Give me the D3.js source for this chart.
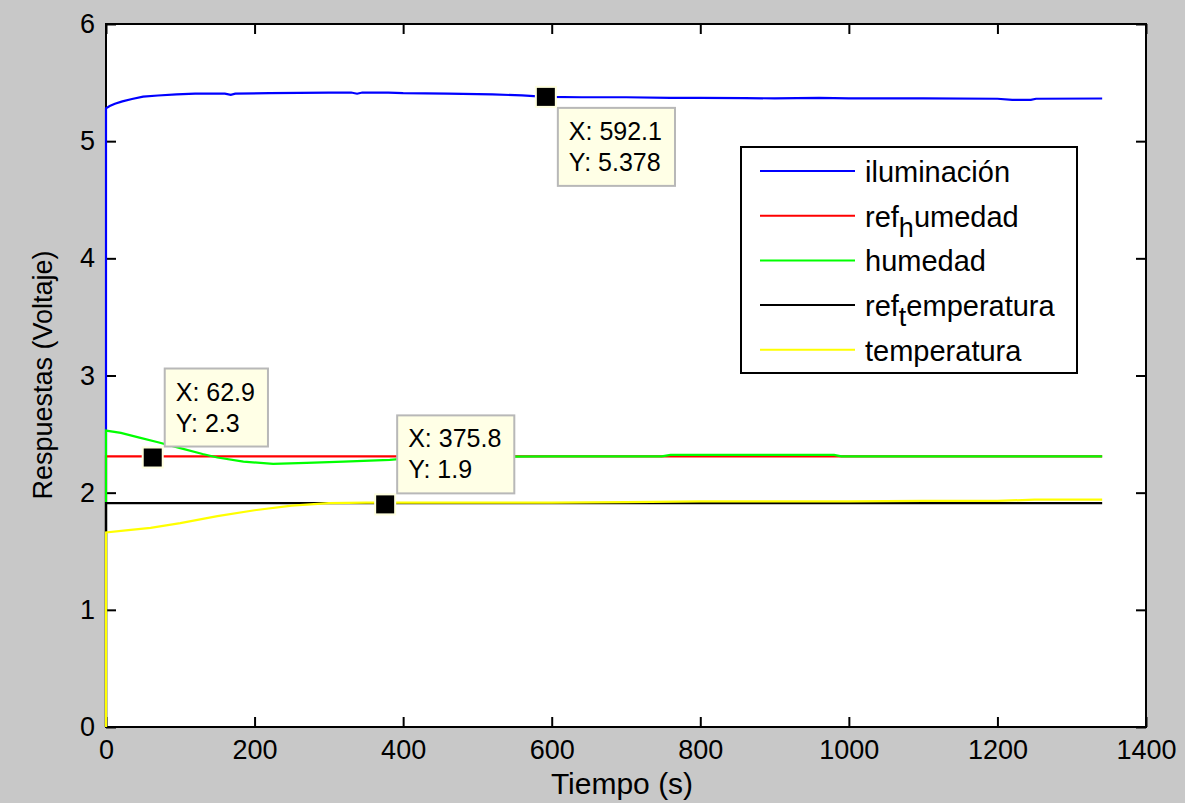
<!DOCTYPE html>
<html>
<head>
<meta charset="utf-8">
<script src="https://cdn.jsdelivr.net/npm/d3@7"></script>
<style>
  body { margin: 0; background: #c8c8c8; }
  text { font-family: "Liberation Sans", Arial, sans-serif; fill: #000; }
</style>
</head>
<body>
<div id="wrapper"></div>
<script>
// time samples (s) and responses (V)
const iluminacionT = [0, 0, 5, 12, 22, 35, 50, 70, 95, 120, 160, 168, 174, 220, 300, 330, 338, 345, 380, 400, 460, 520, 560, 592.1, 640, 700, 760, 800, 860, 900, 960, 1000, 1100, 1200, 1220, 1245, 1252, 1341];
const iluminacionV = [0, 5.28, 5.30, 5.32, 5.34, 5.36, 5.38, 5.39, 5.40, 5.405, 5.405, 5.395, 5.405, 5.41, 5.415, 5.415, 5.405, 5.415, 5.415, 5.41, 5.405, 5.40, 5.39, 5.378, 5.375, 5.375, 5.37, 5.37, 5.368, 5.365, 5.37, 5.365, 5.365, 5.362, 5.352, 5.352, 5.362, 5.364];

const refHumedadT = [0, 0, 1341];
const refHumedadV = [0, 2.31, 2.31];

const humedadT = [0, 0, 20, 45, 70, 100, 130, 150, 185, 225, 270, 320, 382, 420, 500, 600, 700, 748, 760, 980, 990, 1100, 1341];
const humedadV = [0, 2.53, 2.51, 2.47, 2.43, 2.38, 2.33, 2.30, 2.265, 2.245, 2.255, 2.265, 2.28, 2.30, 2.305, 2.31, 2.31, 2.31, 2.322, 2.322, 2.31, 2.31, 2.31];

const refTemperaturaT = [0, 0, 1341];
const refTemperaturaV = [0, 1.91, 1.91];

const temperaturaT = [0, 0, 30, 60, 100, 150, 200, 250, 300, 350, 375.8, 400, 500, 600, 700, 800, 900, 1000, 1100, 1200, 1250, 1341];
const temperaturaV = [0, 1.66, 1.68, 1.70, 1.74, 1.80, 1.85, 1.89, 1.91, 1.915, 1.915, 1.915, 1.915, 1.915, 1.92, 1.925, 1.925, 1.925, 1.93, 1.93, 1.94, 1.94];

const seriesNames = ["iluminación", "ref_humedad", "humedad", "ref_temperatura", "temperatura"];
const seriesColors = ["#0000ff", "#ff0000", "#00ff00", "#000000", "#ffff00"];

// data tips
const tipX = [592.1, 62.9, 375.8];
const tipY = [5.378, 2.3, 1.9];
const tipBelow = [true, false, false];

const xTicks = [0, 200, 400, 600, 800, 1000, 1200, 1400];
const yTicks = [0, 1, 2, 3, 4, 5, 6];

async function drawChart() {
  const series = [
    [iluminacionT, iluminacionV],
    [refHumedadT, refHumedadV],
    [humedadT, humedadV],
    [refTemperaturaT, refTemperaturaV],
    [temperaturaT, temperaturaV],
  ].map(([t, v], i) => ({
    name: seriesNames[i],
    color: seriesColors[i],
    points: t.map((d, j) => ({ t: d, v: v[j] })),
  }));

  let dimensions = {
    width: 1185,
    height: 803,
    margin: { top: 24, right: 39, bottom: 76, left: 106 },
  };
  dimensions.boundedWidth =
    dimensions.width - dimensions.margin.left - dimensions.margin.right;
  dimensions.boundedHeight =
    dimensions.height - dimensions.margin.top - dimensions.margin.bottom;

  const wrapper = d3
    .select("#wrapper")
    .append("svg")
    .attr("width", dimensions.width)
    .attr("height", dimensions.height);

  wrapper.append("rect")
    .attr("width", dimensions.width)
    .attr("height", dimensions.height)
    .attr("fill", "#c8c8c8");

  const bounds = wrapper
    .append("g")
    .attr("transform", `translate(${dimensions.margin.left},${dimensions.margin.top})`);

  bounds.append("rect")
    .attr("width", dimensions.boundedWidth)
    .attr("height", dimensions.boundedHeight)
    .attr("fill", "#fff")
    .attr("stroke", "#000")
    .attr("stroke-width", 2);

  const xScale = d3.scaleLinear().domain([0, 1400]).range([0, dimensions.boundedWidth]);
  const yScale = d3.scaleLinear().domain([0, 6]).range([dimensions.boundedHeight, 0]);

  // axes (box drawn first, data on top like the figure)
  const tickSize = -10;
  const fmt = d3.format("d");
  bounds.append("g")
    .attr("transform", `translate(0,${dimensions.boundedHeight})`)
    .call(d3.axisBottom(xScale).tickValues(xTicks).tickFormat(fmt).tickSizeInner(tickSize).tickSizeOuter(0).tickPadding(13));
  bounds.append("g")
    .call(d3.axisLeft(yScale).tickValues(yTicks).tickFormat(fmt).tickSizeInner(tickSize).tickSizeOuter(0).tickPadding(11));
  bounds.append("g")
    .call(d3.axisTop(xScale).tickValues(xTicks).tickSizeInner(tickSize).tickSizeOuter(0).tickFormat(""));
  bounds.append("g")
    .attr("transform", `translate(${dimensions.boundedWidth},0)`)
    .call(d3.axisRight(yScale).tickValues(yTicks).tickSizeInner(tickSize).tickSizeOuter(0).tickFormat(""));

  bounds.selectAll(".domain").remove();
  bounds.selectAll(".tick line").attr("stroke", "#000").attr("stroke-width", 2);
  bounds.selectAll(".tick text")
    .style("font-family", '"Liberation Sans", Arial, sans-serif')
    .style("font-size", "27px")
    .attr("fill", "#000");

  // lines
  const lineGenerator = d3.line()
    .x((d) => xScale(d.t))
    .y((d) => yScale(d.v));

  bounds.selectAll(".series")
    .data(series)
    .join("path")
    .attr("class", "series")
    .attr("fill", "none")
    .attr("stroke", (d) => d.color)
    .attr("stroke-width", 2.2)
    .attr("d", (d) => lineGenerator(d.points));

  bounds.append("text")
    .attr("x", dimensions.boundedWidth / 2 - 4)
    .attr("y", dimensions.boundedHeight + 67)
    .attr("text-anchor", "middle")
    .style("font-size", "30px")
    .text("Tiempo (s)");

  bounds.append("text")
    .attr("transform", `translate(${52 - dimensions.margin.left},${375 - dimensions.margin.top}) rotate(-90)`)
    .attr("text-anchor", "middle")
    .style("font-size", "27px")
    .text("Respuestas (Voltaje)");

  // legend
  const legend = bounds.append("g")
    .attr("transform", `translate(${741 - dimensions.margin.left},${147 - dimensions.margin.top})`);
  legend.append("rect")
    .attr("width", 336)
    .attr("height", 226)
    .attr("fill", "#fff")
    .attr("stroke", "#000")
    .attr("stroke-width", 2);

  const rowHeight = 44.7;
  const items = legend.selectAll(".item")
    .data(series)
    .join("g")
    .attr("class", "item")
    .attr("transform", (d, i) => `translate(0,${24 + i * rowHeight})`);
  items.append("line")
    .attr("x1", 19).attr("x2", 114)
    .attr("stroke", (d) => d.color)
    .attr("stroke-width", 2);

  // "ref_humedad" -> ref + subscript h + umedad (TeX style)
  items.append("text")
    .attr("x", 124)
    .attr("y", 11)
    .style("font-size", "29px")
    .each(function (d) {
      const label = d3.select(this);
      const parts = d.name.split("_");
      label.append("tspan").text(parts[0]);
      if (parts.length > 1) {
        label.append("tspan").attr("dy", 10).style("font-size", "27px").text(parts[1][0]);
        label.append("tspan").attr("dy", -10).text(parts[1].slice(1));
      }
    });

  // data tips
  const tips = tipX.map((x, i) => ({ x, y: tipY[i], below: tipBelow[i] }));
  const tipGroups = bounds.selectAll(".tip")
    .data(tips)
    .join("g")
    .attr("class", "tip")
    .attr("transform", (d) => `translate(${xScale(d.x)},${yScale(d.y)})`);

  tipGroups.each(function (d) {
    const g = d3.select(this);
    const box = g.append("g")
      .attr("transform", d.below ? "translate(12,11)" : "translate(12,-89)");
    const rect = box.append("rect")
      .attr("fill", "#ffffe6")
      .attr("stroke", "#b8b8b8")
      .attr("stroke-width", 2)
      .attr("height", 78);
    const text = box.append("text").style("font-size", "25px");
    text.append("tspan").attr("x", 11).attr("y", 32).text(`X: ${d.x}`);
    text.append("tspan").attr("x", 11).attr("y", 63).text(`Y: ${d.y}`);
    const w = text.node().getBBox().width;
    rect.attr("width", w + 24);

    g.append("rect")
      .attr("x", -11).attr("y", -11)
      .attr("width", 22).attr("height", 22)
      .attr("fill", "#ffffe0");
    g.append("rect")
      .attr("x", -9).attr("y", -9)
      .attr("width", 18).attr("height", 18)
      .attr("fill", "#000");
  });
}
drawChart();
</script>
</body>
</html>
